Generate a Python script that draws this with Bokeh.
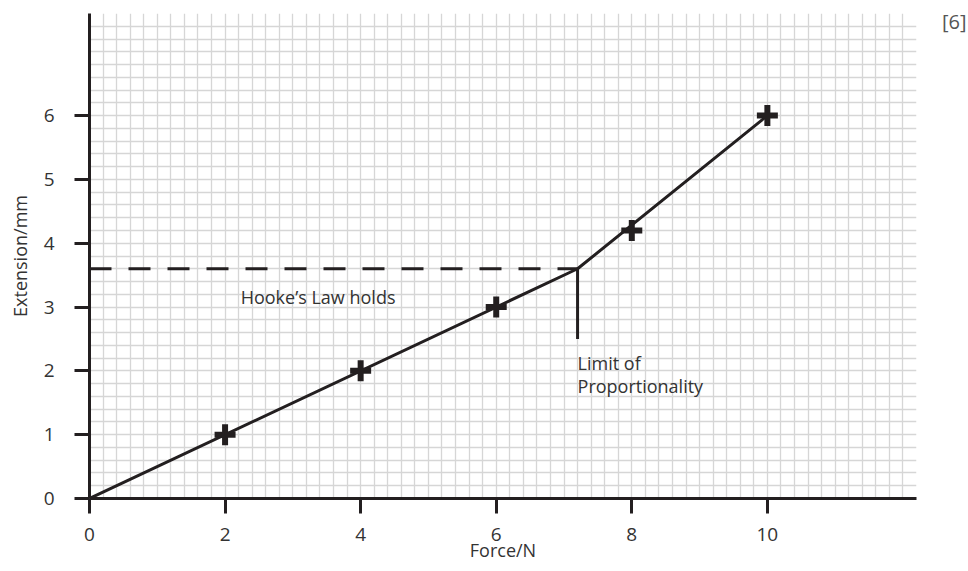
from bokeh.plotting import figure
from bokeh.models import FixedTicker, Label, Range1d, Div
from bokeh.layouts import row
from bokeh.embed import file_html
from bokeh.resources import INLINE

# data
force = [2, 4, 6, 8, 10]
extension = [1, 2, 3, 4.2, 6]
line_x = [0, 7.2, 10]
line_y = [0, 3.6, 6]
limit_x = 7.2
limit_y = 3.6
limit_bottom = 2.5
x_ticks = [0, 2, 4, 6, 8, 10]
y_ticks = [0, 1, 2, 3, 4, 5, 6]
x_max = 12.2
y_max = 7.6
grid_step = 0.2
marks_text = "[6]"

FONT = "Open Sans"
INK = "#231f20"
TXT = "#333333"

p = figure(frame_width=827, frame_height=485, output_backend="svg", toolbar_location=None,
           x_range=Range1d(0, x_max), y_range=Range1d(0, y_max),
           min_border_left=89, min_border_right=14, min_border_top=13, min_border_bottom=55)
p.outline_line_color = None
p.background_fill_color = "white"

gx = [round(k * grid_step, 1) for k in range(int(round(x_max / grid_step)) + 1)]
gy = [round(k * grid_step, 1) for k in range(int(round(y_max / grid_step)) + 1)]
p.xgrid.ticker = FixedTicker(ticks=gx)
p.ygrid.ticker = FixedTicker(ticks=gy)
for g in (p.xgrid, p.ygrid):
    g.grid_line_color = "#d6d6d6"
    g.grid_line_width = 1.3

p.xaxis.ticker = FixedTicker(ticks=x_ticks)
p.yaxis.ticker = FixedTicker(ticks=y_ticks)
for ax in (p.xaxis, p.yaxis):
    ax.axis_line_color = INK
    ax.axis_line_width = 3
    ax.major_tick_line_color = INK
    ax.major_tick_line_width = 3
    ax.major_tick_out = 15
    ax.major_tick_in = 0
    ax.minor_tick_line_color = None
    ax.major_label_text_font = FONT
    ax.major_label_text_font_size = "19px"
    ax.major_label_text_color = TXT
    ax.axis_label_text_font = FONT
    ax.axis_label_text_font_size = "18px"
    ax.axis_label_text_font_style = "normal"
    ax.axis_label_text_color = TXT
p.xaxis.axis_label = "Force/N"
p.yaxis.axis_label = "Extension/mm"
p.xaxis.major_label_standoff = 14
p.yaxis.major_label_standoff = 20
p.xaxis.axis_label_standoff = -6
p.yaxis.axis_label_standoff = 9

# dashed Hooke's law line
p.line([0, limit_x], [limit_y, limit_y], line_color=INK, line_width=3, line_dash="22 17")
# vertical marker for limit
p.line([limit_x, limit_x], [limit_y, limit_bottom], line_color=INK, line_width=3)
# main line
p.line(line_x, line_y, line_color=INK, line_width=3)
# points
p.scatter(force, extension, marker="cross", size=21, line_color=INK, line_width=6)

p.add_layout(Label(x=2.23, y=3.15, text="Hooke\u2019s Law holds", text_font=FONT,
                   text_font_size="18px", text_color=TXT, text_baseline="middle"))
p.add_layout(Label(x=limit_x, y=2.13, text="Limit of", text_font=FONT,
                   text_font_size="18px", text_color=TXT, text_baseline="middle"))
p.add_layout(Label(x=limit_x, y=1.76, text="Proportionality", text_font=FONT,
                   text_font_size="18px", text_color=TXT, text_baseline="middle"))

marks = Div(text=('<span style="font-family:\'Open Sans\';font-size:20px;color:#555555;'
                  'line-height:26px;white-space:nowrap">' + marks_text + '</span>'),
            width=26, height=30, margin=(9, 0, 0, 12))

layout = row(p, marks)
open("out.html", "w").write(file_html(layout, INLINE))
